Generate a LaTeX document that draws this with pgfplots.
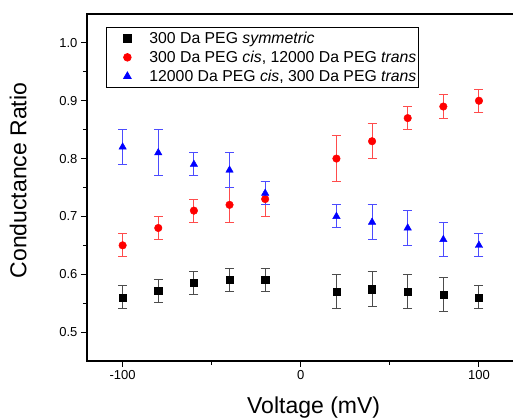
\documentclass[border=0pt]{standalone}
\usepackage{fontspec}
\setmainfont{Liberation Sans}
\usepackage{pgfplots}
\pgfplotsset{compat=1.18}

\begin{document}
\begin{tikzpicture}
\begin{axis}[
    name=ax,
    scale only axis,
    width=427.6pt, height=347pt,
    xmin=-120, xmax=120,
    ymin=0.45, ymax=1.05,
    xtick={-100,0,100}, minor xtick={-50,50},
    ytick={0.5,0.6,0.7,0.8,0.9,1.0},
    minor ytick={0.55,0.65,0.75,0.85,0.95},
    tick pos=left, tick align=outside,
    major tick length=6pt, minor tick length=4pt,
    every tick/.style={black, line width=1pt},
    axis line style={line width=1.2pt},
    tick label style={font=\fontsize{13}{15}\selectfont, /pgf/number format/assume math mode=true},
    y tick label style={/pgf/number format/.cd, fixed, fixed zerofill, precision=1},
    xlabel={Voltage (mV)},
    ylabel={Conductance Ratio},
    label style={font=\fontsize{23}{27}\selectfont},
    xlabel style={at={(axis description cs:0.53,-0.104)}, anchor=north, inner sep=0pt},
    ylabel style={at={(axis description cs:-0.161,0.52)}, anchor=center, inner sep=0pt},
    legend style={at={(axis description cs:0.0444,0.9625)}, anchor=north west,
        draw=black, line width=0.8pt, font=\fontsize{15.8}{19}\selectfont,
        row sep=3pt, inner xsep=1pt, inner ysep=3pt,
        nodes={inner xsep=1pt, inner ysep=1.5pt}},
    legend cell align=left,
    legend image code/.code={\path[draw=none] (0pt,0pt) -- (41pt,0pt);
        \path[#1, draw=none] plot coordinates {(20pt,0pt)};},
    error bars/y dir=both, error bars/y explicit,
]
\addplot[only marks, mark=square*, mark size=3.6pt, black,
    error bars/error bar style={line width=1pt, black!70},
    error bars/error mark options={rotate=90, mark size=4.5pt, line width=1pt, black!70}]
coordinates {
(-100,0.560) +- (0,0.020)
(-80,0.571) +- (0,0.020)
(-60,0.585) +- (0,0.020)
(-40,0.590) +- (0,0.020)
(-20,0.590) +- (0,0.020)
(20,0.570) +- (0,0.030)
(40,0.574) +- (0,0.030)
(60,0.570) +- (0,0.030)
(80,0.565) +- (0,0.030)
(100,0.560) +- (0,0.020)
};
\addlegendentry{300 Da PEG \textit{symmetric}}
\addplot[only marks, mark=*, mark size=3.8pt, red,
    error bars/error bar style={line width=1pt, red!70!white},
    error bars/error mark options={rotate=90, mark size=4.5pt, line width=1pt, red!70!white}]
coordinates {
(-100,0.650) +- (0,0.020)
(-80,0.680) +- (0,0.020)
(-60,0.710) +- (0,0.020)
(-40,0.720) +- (0,0.030)
(-20,0.730) +- (0,0.030)
(20,0.800) +- (0,0.040)
(40,0.830) +- (0,0.030)
(60,0.870) +- (0,0.020)
(80,0.890) +- (0,0.020)
(100,0.900) +- (0,0.020)
};
\addlegendentry{300 Da PEG \textit{cis}, 12000 Da PEG \textit{trans}}
\addplot[only marks, mark=triangle*, mark size=4.3pt, blue,
    error bars/error bar style={line width=1pt, blue!70!white},
    error bars/error mark options={rotate=90, mark size=4.5pt, line width=1pt, blue!70!white}]
coordinates {
(-100,0.820) +- (0,0.030)
(-80,0.810) +- (0,0.040)
(-60,0.790) +- (0,0.020)
(-40,0.780) +- (0,0.030)
(-20,0.740) +- (0,0.020)
(20,0.700) +- (0,0.020)
(40,0.690) +- (0,0.030)
(60,0.680) +- (0,0.030)
(80,0.660) +- (0,0.030)
(100,0.650) +- (0,0.020)
};
\addlegendentry{12000 Da PEG \textit{cis}, 300 Da PEG \textit{trans}}
\end{axis}
\pgfresetboundingbox
\useasboundingbox ([xshift=-87pt,yshift=-57pt]ax.south west) rectangle ([xshift=426pt,yshift=14pt]ax.north west);
\end{tikzpicture}
\end{document}
